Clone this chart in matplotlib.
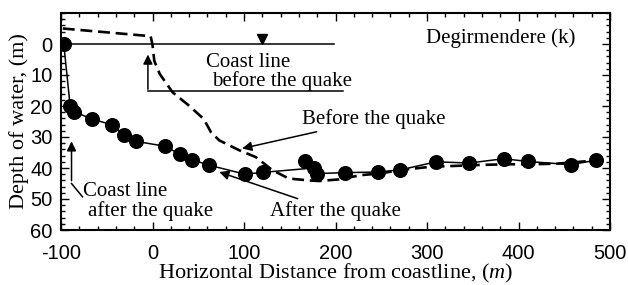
import numpy as np
import matplotlib
matplotlib.use('Agg')
from matplotlib import pyplot as plt
from matplotlib.ticker import MultipleLocator

plt.rcParams['axes.unicode_minus'] = False
plt.rcParams['mathtext.fontset'] = 'custom'
plt.rcParams['mathtext.rm'] = 'Liberation Serif'
plt.rcParams['mathtext.it'] = 'Liberation Serif:italic'

# after the quake (measured points, in survey order)
after_x = [-97, -90, -86, -66, -44, -31, -18, 14, 30, 43, 62, 101, 121, 176, 167, 180, 210, 246, 271, 310, 346, 384, 410, 457, 485]
after_y = [0, 19.9, 21.8, 24.2, 26.1, 29.5, 31.4, 33.0, 35.6, 37.3, 39.1, 42.0, 41.4, 40.0, 37.7, 41.8, 41.5, 41.3, 40.6, 38.0, 38.4, 37.0, 37.9, 38.9, 37.5]

# before the quake (dashed profile)
before_x = [-98, -5, -2, 0, 2, 8, 22, 40, 56, 64, 73, 95, 113, 131, 149, 171, 182, 203, 228, 247, 276, 301, 315, 359, 388, 413, 442, 475, 500]
before_y = [-5.0, -2.6, -2.5, 0.3, 5.5, 9.7, 15.6, 19.9, 24.2, 28.5, 31.1, 34.3, 36.5, 40.7, 43.4, 44.0, 44.2, 43.7, 42.3, 41.8, 40.5, 39.7, 39.5, 39.0, 38.8, 38.8, 38.6, 37.8, 37.2]

serif = 'Liberation Serif'
sans = 'Liberation Sans'

fig = plt.figure(figsize=(6.28, 2.85), dpi=100)
ax = fig.add_axes([61 / 628, 1 - 230 / 285, 549 / 628, 217 / 285])

ax.plot(before_x, before_y, 'k', ls=(0, (4.5, 2.2)), lw=1.9)
ax.plot(after_x, after_y, 'k-', lw=1.1, marker='o', ms=9.8)

# water level before the quake
ax.plot([-100, 198], [0, 0], 'k-', lw=1.1)
ax.plot([120], [-1.6], 'kv', ms=7)

ax.set_xlim(-100, 500)
ax.set_ylim(60, -10)
ax.set_xticks([-100, 0, 100, 200, 300, 400, 500])
ax.set_yticks([0, 10, 20, 30, 40, 50, 60])
ax.xaxis.set_minor_locator(MultipleLocator(20))
ax.yaxis.set_minor_locator(MultipleLocator(2))
ax.tick_params(which='both', direction='in', top=True, right=True, width=1)
ax.tick_params(which='major', length=6, labelsize=14.5)
ax.tick_params(axis='x', which='major', pad=10)
ax.tick_params(axis='y', which='major', pad=6)
ax.tick_params(which='minor', length=3)
for lab in ax.get_xticklabels() + ax.get_yticklabels():
    lab.set_family(sans)
for s in ax.spines.values():
    s.set_linewidth(1.5)

ax.set_xlabel('Horizontal Distance from coastline, ($\\mathit{m}$)', family=serif, fontsize=16, labelpad=-1)
ax.set_ylabel('Depth of water, (m)', family=serif, fontsize=16, labelpad=1)

tk = dict(family=serif, fontsize=15, color='k')
ax.text(462, -2.0, 'Degirmendere (k)', ha='right', va='center', **tk)

# coast line before the quake
ax.annotate('', xy=(-5, 2.5), xytext=(-5, 15.5),
            arrowprops=dict(arrowstyle='-|>', color='k', lw=1.1, mutation_scale=14))
ax.plot([-5, 208], [15.3, 15.3], 'k-', lw=1.1)
ax.text(59, 6.0, 'Coast line', ha='left', va='center', **tk)
ax.text(65, 11.8, 'before the quake', ha='left', va='center', **tk)

# coast line after the quake
ax.annotate('', xy=(-88.5, 30.5), xytext=(-88.5, 45),
            arrowprops=dict(arrowstyle='-|>', color='k', lw=1.1, mutation_scale=14))
ax.plot([-88.5, -76.5], [45, 49.3], 'k-', lw=1.1)
ax.text(-76, 47.7, 'Coast line', ha='left', va='center', **tk)
ax.text(-70.5, 54.0, 'after the quake', ha='left', va='center', **tk)

ax.annotate('Before the quake', xy=(98, 33.7), xytext=(163, 24.2), va='center', ha='left',
            arrowprops=dict(arrowstyle='-|>', color='k', lw=1.1, mutation_scale=14, shrinkA=0, shrinkB=0), **tk)
ax.annotate('After the quake', xy=(73, 41.3), xytext=(128, 54.0), va='center', ha='left',
            arrowprops=dict(arrowstyle='-|>', color='k', lw=1.1, mutation_scale=14, shrinkA=0, shrinkB=0), **tk)

fig.savefig('out.png', dpi=100)
